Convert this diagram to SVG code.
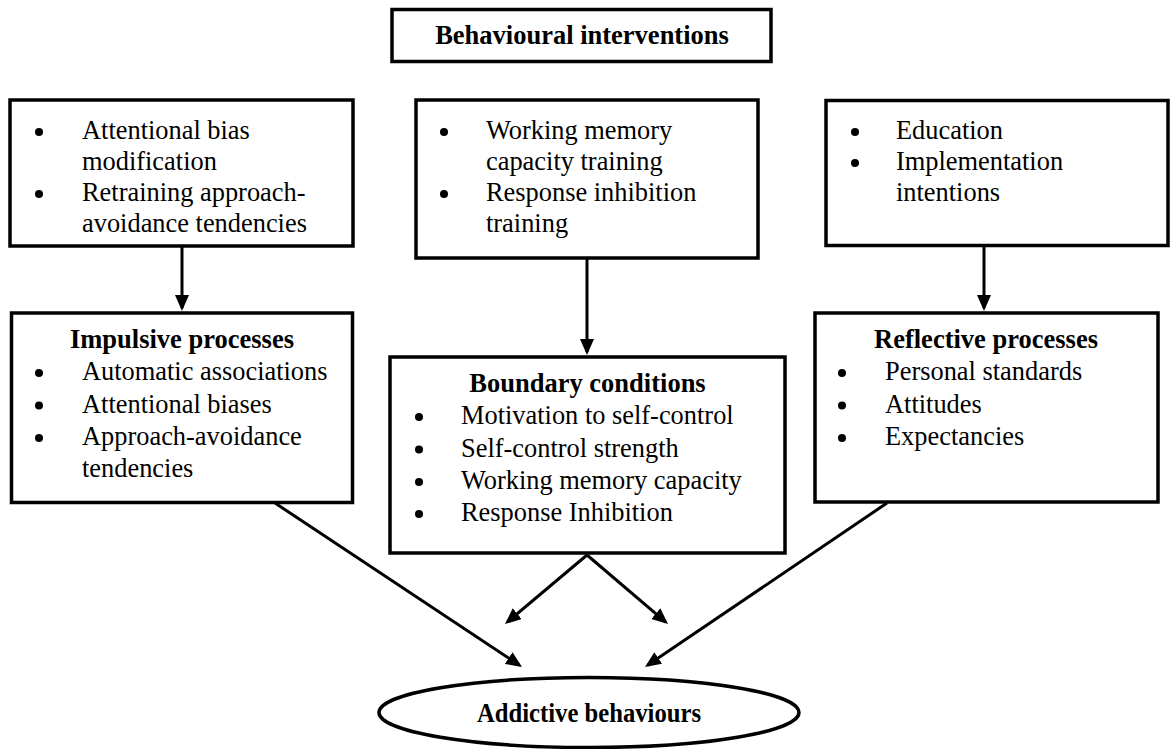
<svg xmlns="http://www.w3.org/2000/svg" width="1173" height="749" viewBox="0 0 1173 749">
  <style>
    .box { fill: #ffffff; stroke: #000000; stroke-width: 3.5; }
    .txt { font-family: "Liberation Serif", "Times New Roman", serif; font-size: 26.4px; fill: #000000; }
    .ttl { font-family: "Liberation Serif", "Times New Roman", serif; font-size: 26.5px; font-weight: bold; fill: #000000; text-anchor: middle; }
    .bul { fill: #000000; }
    .con { stroke: #000000; stroke-width: 3; fill: none; marker-end: url(#head); }
  </style>
  <defs>
    <marker id="head" markerUnits="userSpaceOnUse" markerWidth="17" markerHeight="15" refX="13" refY="7" orient="auto">
      <path d="M0,0 L16,7 L0,14 z" fill="#000000"/>
    </marker>
  </defs>
  <rect width="1173" height="749" fill="#ffffff"/>

  <!-- connectors -->
  <g id="connectors">
    <line class="con" x1="182" y1="247" x2="182" y2="308"/>
    <line class="con" x1="587" y1="259" x2="587" y2="352"/>
    <line class="con" x1="984" y1="247" x2="984" y2="308"/>
    <line class="con" x1="275" y1="503" x2="519.5" y2="665.3"/>
    <line class="con" x1="887" y1="503" x2="647.5" y2="665.3"/>
    <line class="con" x1="587" y1="555" x2="507.3" y2="622.1"/>
    <line class="con" x1="587" y1="555" x2="665.7" y2="622.1"/>
  </g>

  <!-- top heading -->
  <g id="interventions">
    <rect class="box" x="392" y="9.5" width="379" height="52"/>
    <text class="ttl" x="582" y="44">Behavioural interventions</text>
  </g>

  <!-- intervention: impulsive -->
  <g id="int-impulsive">
    <rect class="box" x="10" y="100" width="343" height="146"/>
    <circle class="bul" cx="39" cy="132" r="4"/>
    <circle class="bul" cx="39" cy="194" r="4"/>
    <text class="txt" x="82" y="139">Attentional bias</text>
    <text class="txt" x="82" y="170">modification</text>
    <text class="txt" x="82" y="201">Retraining approach-</text>
    <text class="txt" x="82" y="232">avoidance tendencies</text>
  </g>

  <!-- intervention: boundary -->
  <g id="int-boundary">
    <rect class="box" x="416" y="100" width="342" height="158"/>
    <circle class="bul" cx="444" cy="132" r="4"/>
    <circle class="bul" cx="444" cy="194" r="4"/>
    <text class="txt" x="486" y="139">Working memory</text>
    <text class="txt" x="486" y="170">capacity training</text>
    <text class="txt" x="486" y="201">Response inhibition</text>
    <text class="txt" x="486" y="232">training</text>
  </g>

  <!-- intervention: reflective -->
  <g id="int-reflective">
    <rect class="box" x="826" y="100.5" width="342" height="145"/>
    <circle class="bul" cx="855" cy="132" r="4"/>
    <circle class="bul" cx="855" cy="163" r="4"/>
    <text class="txt" x="896" y="139">Education</text>
    <text class="txt" x="896" y="170">Implementation</text>
    <text class="txt" x="896" y="201">intentions</text>
  </g>

  <!-- impulsive processes -->
  <g id="impulsive">
    <rect class="box" x="11.5" y="313" width="341" height="189.5"/>
    <text class="ttl" x="182" y="348">Impulsive processes</text>
    <circle class="bul" cx="39" cy="373" r="4"/>
    <circle class="bul" cx="39" cy="405.5" r="4"/>
    <circle class="bul" cx="39" cy="438" r="4"/>
    <text class="txt" x="82" y="380">Automatic associations</text>
    <text class="txt" x="82" y="412.5">Attentional biases</text>
    <text class="txt" x="82" y="445">Approach-avoidance</text>
    <text class="txt" x="82" y="477">tendencies</text>
  </g>

  <!-- boundary conditions -->
  <g id="boundary">
    <rect class="box" x="390" y="357" width="395" height="196"/>
    <text class="ttl" x="587.5" y="392">Boundary conditions</text>
    <circle class="bul" cx="419" cy="417" r="4"/>
    <circle class="bul" cx="419" cy="449.5" r="4"/>
    <circle class="bul" cx="419" cy="482" r="4"/>
    <circle class="bul" cx="419" cy="514" r="4"/>
    <text class="txt" x="461" y="424">Motivation to self-control</text>
    <text class="txt" x="461" y="456.5">Self-control strength</text>
    <text class="txt" x="461" y="489">Working memory capacity</text>
    <text class="txt" x="461" y="521">Response Inhibition</text>
  </g>

  <!-- reflective processes -->
  <g id="reflective">
    <rect class="box" x="815" y="313" width="343" height="189"/>
    <text class="ttl" x="986" y="348">Reflective processes</text>
    <circle class="bul" cx="842" cy="373" r="4"/>
    <circle class="bul" cx="842" cy="405.5" r="4"/>
    <circle class="bul" cx="842" cy="438" r="4"/>
    <text class="txt" x="885" y="380">Personal standards</text>
    <text class="txt" x="885" y="412.5">Attitudes</text>
    <text class="txt" x="885" y="445">Expectancies</text>
  </g>

  <!-- outcome -->
  <g id="addictive">
    <ellipse class="box" cx="589" cy="712.5" rx="210" ry="35"/>
    <text class="ttl" x="589" y="722" textLength="224" lengthAdjust="spacingAndGlyphs">Addictive behaviours</text>
  </g>
</svg>
